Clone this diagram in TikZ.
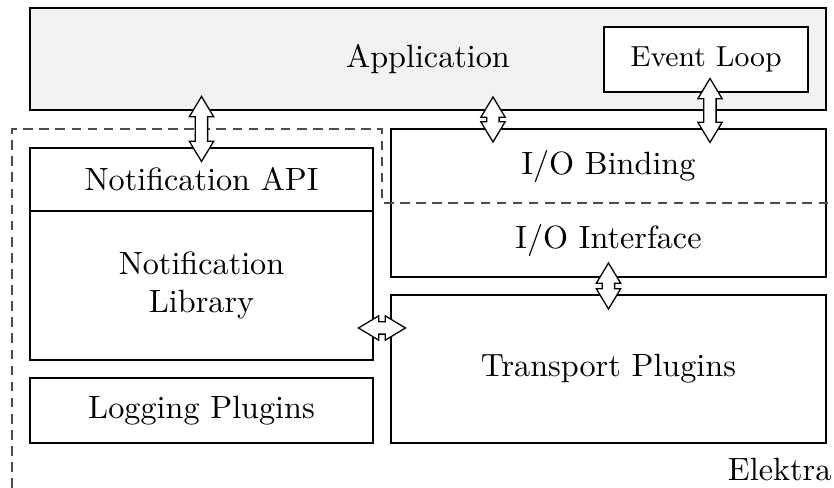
\documentclass[tikz,border=0pt]{standalone}
\usetikzlibrary{shapes.arrows,calc}
\newdimen\pxu \pxu=0.3106pt
\tikzset{
  box/.style={draw=black, thin, inner sep=0pt},
  txt/.style={inner sep=0pt, align=center},
  dbl/.style={double arrow, draw=black, thin, fill=white, inner xsep=0pt,
    inner ysep=5.5\pxu, double arrow head extend=6\pxu, double arrow tip angle=62},
  elk/.style={draw=black!70, thin, dash pattern=on 3pt off 2pt}
}
\begin{document}
\begin{tikzpicture}[x=0.3106pt, y=-0.3106pt]
\useasboundingbox (0,0) rectangle (834,488);
% Application
\node[box, fill=black!5, minimum width=796\pxu, minimum height=102\pxu] (app) at (428,59) {Application};
\node[box, fill=white, minimum width=204\pxu, minimum height=65\pxu] (evl) at (706,59.5) {\small Event Loop};
% left column
\node[box, minimum width=343\pxu, minimum height=63\pxu] (api) at (201.5,179.5) {Notification API};
\node[box, minimum width=343\pxu, minimum height=149\pxu, align=center] (lib) at (201.5,285.5) {Notification\\Library};
\node[box, minimum width=343\pxu, minimum height=65\pxu] (log) at (201.5,410.5) {Logging Plugins};
% right column
\node[box, minimum width=435\pxu, minimum height=148\pxu] (io) at (608.5,203) {};
\node[txt] (iob) at (608.5,166) {I/O Binding};
\node[txt] (ioi) at (608.5,240) {I/O Interface};
\node[box, minimum width=435\pxu, minimum height=148\pxu] (tp) at (608.5,369) {Transport Plugins};
% Elektra boundary
\draw[elk] (12,488) -- (12,129) -- (382,129) -- (382,203) -- (834,203);
\node[anchor=base east, inner sep=0pt] (elektra) at (832,481) {Elektra};
% arrows
\coordinate (x2) at (493,0);
\coordinate (x3) at (710,0);
\coordinate (y4) at (0,328);
\node[dbl, rotate=90, minimum height=65\pxu] (a1) at ($(api.north)!0.5!(api.north |- app.south)$) {};
\node[dbl, rotate=90, minimum height=45\pxu] (a2) at ($(io.north -| x2)!0.5!(app.south -| x2)$) {};
\node[dbl, rotate=90, minimum height=64\pxu] (a3) at ($(io.north -| x3)!0.5!(evl.south -| x3)$) {};
\node[dbl, minimum height=47\pxu] (a4) at ($(lib.east |- y4)!0.5!(tp.west |- y4)$) {};
\node[dbl, rotate=90, minimum height=46\pxu] (a5) at ($(io.south)!0.5!(tp.north)$) {};
\end{tikzpicture}
\end{document}
